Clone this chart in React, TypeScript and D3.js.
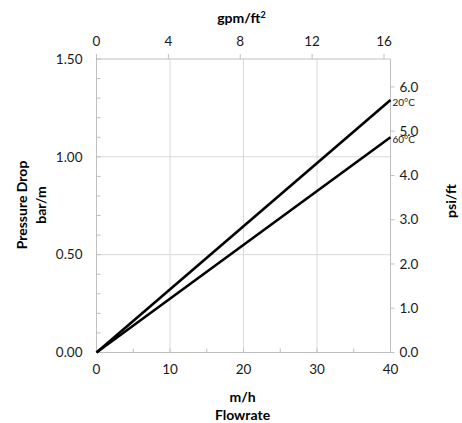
import React from "react";
import * as d3 from "d3";

const flowrate = [0, 40];
const drop20C = [0, 1.29];
const drop60C = [0, 1.1];
const seriesNames = ["20°C", "60°C"];
const bottomTicks = [0, 10, 20, 30, 40];
const bottomMinor = [5, 15, 25, 35];
const topTicks = [0, 4, 8, 12, 16];
const leftTicks = [0, 0.5, 1.0, 1.5];
const leftMinor = [0.1, 0.2, 0.3, 0.4, 0.6, 0.7, 0.8, 0.9, 1.1, 1.2, 1.3, 1.4];
const rightTicks = [0, 1, 2, 3, 4, 5, 6];
const gridX = [10, 20, 30];
const gridY = [0.5, 1.0];

const W = 462;
const H = 423;
const X0 = 96.5;
const X1 = 390.5;
const Y0 = 352.5;
const Y1 = 59;
const FONT = "Lato, 'Open Sans', sans-serif";

export default function App() {
  const x = d3.scaleLinear().domain([0, 40]).range([X0, X1]);
  const y = d3.scaleLinear().domain([0, 1.5]).range([Y0, Y1]);
  const xTop = d3.scaleLinear().domain([0, 40 / 2.4448]).range([X0, X1]);
  const yRight = d3.scaleLinear().domain([0, (1.5 * 14.5038) / 3.28084]).range([Y0, Y1]);
  const line = d3
    .line<[number, number]>()
    .x((d) => x(d[0]))
    .y((d) => y(d[1]));
  const series = [drop20C, drop60C].map((vals) => flowrate.map((f, i) => [f, vals[i]] as [number, number]));
  const axisColor = "#bfbfbf";
  const gridColor = "#d9d9d9";
  const textColor = "#1a1a1a";
  return (
    <svg width={W} height={H} style={{ position: "absolute", left: 0, top: 0, background: "#fff" }} fontFamily={FONT}>
      {gridX.map((v) => (
        <line key={"gx" + v} x1={x(v)} x2={x(v)} y1={Y0} y2={Y1} stroke={gridColor} strokeWidth={1} />
      ))}
      {gridY.map((v) => (
        <line key={"gy" + v} x1={X0} x2={X1} y1={y(v)} y2={y(v)} stroke={gridColor} strokeWidth={1} />
      ))}
      <line x1={X0} x2={X1} y1={Y0} y2={Y0} stroke={axisColor} />
      <line x1={X0} x2={X1} y1={Y1} y2={Y1} stroke={axisColor} />
      <line x1={X0} x2={X0} y1={Y0} y2={Y1} stroke={axisColor} />
      <line x1={X1} x2={X1} y1={Y0} y2={Y1} stroke={axisColor} />
      {[...bottomTicks, ...bottomMinor].map((v) => (
        <line key={"bt" + v} x1={x(v)} x2={x(v)} y1={Y0} y2={Y0 - 4} stroke={axisColor} />
      ))}
      {bottomTicks.map((v) => (
        <text key={"bl" + v} x={x(v)} y={Y0 + 21} textAnchor="middle" fontSize={13.5} fill={textColor}>
          {v}
        </text>
      ))}
      {topTicks.map((v) => (
        <line key={"tt" + v} x1={xTop(v)} x2={xTop(v)} y1={Y1} y2={Y1 - 5} stroke={axisColor} />
      ))}
      {topTicks.map((v) => (
        <text key={"tl" + v} x={xTop(v)} y={Y1 - 13} textAnchor="middle" fontSize={13.5} fill={textColor}>
          {v}
        </text>
      ))}
      {[...leftTicks, ...leftMinor].map((v) => (
        <line key={"lt" + v} x1={X0} x2={X0 + 4} y1={y(v)} y2={y(v)} stroke={axisColor} />
      ))}
      {leftTicks.map((v) => (
        <text key={"ll" + v} x={X0 - 14} y={y(v)} dy="0.35em" textAnchor="end" fontSize={13.5} fill={textColor}>
          {d3.format(".2f")(v)}
        </text>
      ))}
      {rightTicks.map((v) => (
        <line key={"rt" + v} x1={X1} x2={X1 + 4} y1={yRight(v)} y2={yRight(v)} stroke={axisColor} />
      ))}
      {rightTicks.map((v) => (
        <text key={"rl" + v} x={X1 + 9} y={yRight(v)} dy="0.35em" textAnchor="start" fontSize={13.5} fill={textColor}>
          {d3.format(".1f")(v)}
        </text>
      ))}
      {series.map((s, i) => (
        <path key={"s" + i} d={line(s) || ""} fill="none" stroke="#000" strokeWidth={2.6} />
      ))}
      {series.map((s, i) => {
        const last = s[s.length - 1];
        return (
          <text key={"sl" + i} x={x(last[0]) + 2} y={y(last[1]) + 6} fontSize={10} fill={textColor}>
            {seriesNames[i]}
          </text>
        );
      })}
      <text x={(X0 + X1) / 2 - 2} y={23} textAnchor="middle" fontSize={14} fontWeight="bold" fill="#000">
        gpm/ft<tspan dy="-5" fontSize={9}>2</tspan>
      </text>
      <text x={(X0 + X1) / 2 - 1} y={402} textAnchor="middle" fontSize={14} fontWeight="bold" fill="#000">
        m/h
      </text>
      <text x={(X0 + X1) / 2 - 1} y={420} textAnchor="middle" fontSize={14} fontWeight="bold" fill="#000">
        Flowrate
      </text>
      <text transform={`translate(27,205) rotate(-90)`} textAnchor="middle" fontSize={14} fontWeight="bold" fill="#000">
        Pressure Drop
      </text>
      <text transform={`translate(46,205) rotate(-90)`} textAnchor="middle" fontSize={14} fontWeight="bold" fill="#000">
        bar/m
      </text>
      <text transform={`translate(456,201) rotate(-90)`} textAnchor="middle" fontSize={14} fontWeight="bold" fill="#000">
        psi/ft
      </text>
    </svg>
  );
}
